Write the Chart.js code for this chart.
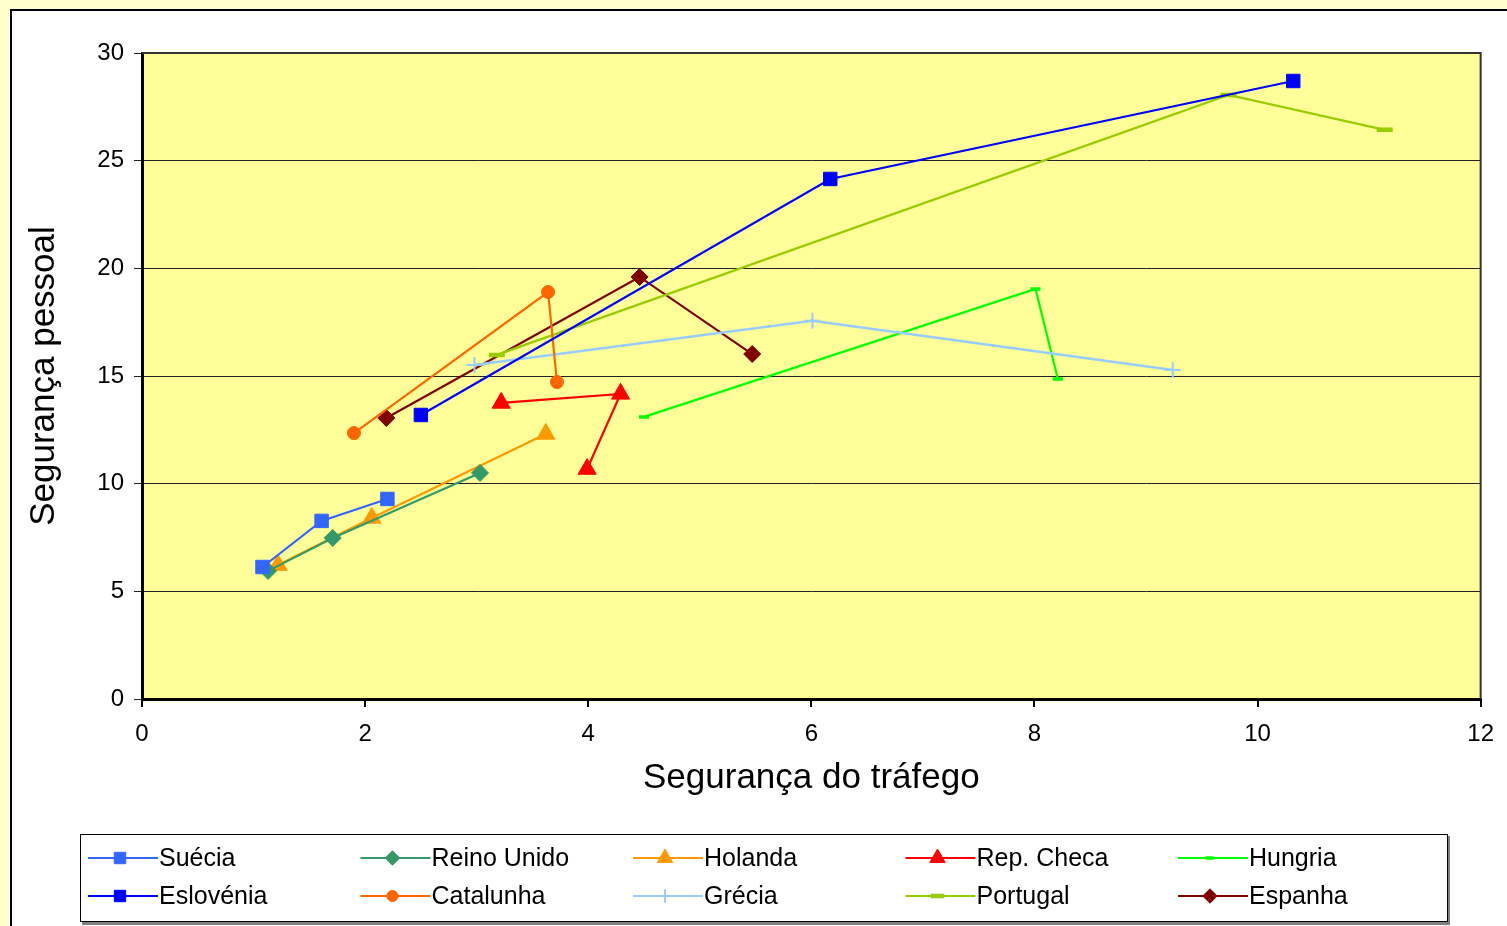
<!DOCTYPE html>
<html>
<head>
<meta charset="utf-8">
<script src="https://cdn.jsdelivr.net/npm/chart.js@4.4.1/dist/chart.umd.min.js"></script>
<style>
  body { margin: 0; background: #FFFFCC; overflow: hidden; }
  #frame { position: absolute; left: 10px; top: 9px; width: 1510px; height: 930px; background: #fff; border-left: 2px solid #000; border-top: 2px solid #000; }
  #graphs { position: absolute; left: 0; top: 0; }
</style>
</head>
<body>
<div id="frame"></div>
<canvas id="graphs" width="1507" height="926"></canvas>
<script>
// x = Segurança do tráfego, y = Segurança pessoal
const suecia = [[1.08, 6.13], [1.61, 8.27], [2.20, 9.29]];
const eslovenia = [[2.50, 13.19], [6.17, 24.15], [10.32, 28.70]];
const reinoUnido = [[1.13, 5.95], [1.71, 7.48], [3.03, 10.50]];
const catalunha = [[1.90, 12.35], [3.64, 18.90], [3.72, 14.72]];
const holanda = [[1.22, 6.22], [2.06, 8.41], [3.62, 12.31]];
const grecia = [[2.98, 15.51], [6.01, 17.56], [9.24, 15.28]];
const repCheca = [[3.22, 13.75], [4.29, 14.17], [3.99, 10.68]];
const portugal = [[3.18, 15.98], [9.74, 28.05], [11.14, 26.43]];
const hungria = [[4.50, 13.10], [8.01, 19.04], [8.21, 14.86]];
const espanha = [[2.19, 13.05], [4.46, 19.60], [5.47, 16.02]];

const xTicks = [0, 2, 4, 6, 8, 10, 12];
const yTicks = [0, 5, 10, 15, 20, 25, 30];

const FONT = '"Liberation Sans", Arial, sans-serif';

function pts(arr) {
    return arr.map(p => ({ x: p[0], y: p[1] }));
}

function series(label, arr, color, style, radius, bw, lw) {
    return {
        label: label,
        data: pts(arr),
        showLine: true,
        borderColor: color,
        backgroundColor: color,
        pointBackgroundColor: color,
        pointBorderColor: color,
        borderWidth: lw || 2.2,
        pointStyle: style,
        pointRadius: radius,
        pointHoverRadius: radius,
        pointBorderWidth: bw,
        legendRadius: radius * 0.85,
    };
}

// column-major order so the legend reads row by row like the original
const datasets = [
    series('Suécia', suecia, '#3366FF', 'rect', 9.5, 1),
    series('Eslovénia', eslovenia, '#0000FF', 'rect', 9.5, 1),
    series('Reino Unido', reinoUnido, '#339966', 'rectRot', 8.5, 1),
    series('Catalunha', catalunha, '#FF6600', 'circle', 6.5, 1),
    series('Holanda', holanda, '#FF9900', 'triangle', 10.5, 1),
    series('Grécia', grecia, '#99CCFF', 'cross', 8, 2, 2.5),
    series('Rep. Checa', repCheca, '#FF0000', 'triangle', 10.5, 1),
    series('Portugal', portugal, '#99CC00', 'line', 8, 4.5),
    series('Hungria', hungria, '#00FF00', 'line', 5, 3.5),
    series('Espanha', espanha, '#800000', 'rectRot', 8.5, 1),
];

const plotFrame = {
    id: 'plotFrame',
    beforeDraw(chart) {
        const a = chart.chartArea;
        const ctx = chart.ctx;
        ctx.save();
        ctx.fillStyle = '#FFFF99';
        ctx.fillRect(a.left, a.top, a.right - a.left, a.bottom - a.top);
        ctx.restore();
    },
    afterDatasetsDraw(chart) {
        const a = chart.chartArea;
        const ctx = chart.ctx;
        ctx.save();
        ctx.strokeStyle = '#333';
        ctx.lineWidth = 2;
        ctx.beginPath();
        ctx.moveTo(a.left, a.top);
        ctx.lineTo(a.right, a.top);
        ctx.lineTo(a.right, a.bottom);
        ctx.stroke();
        ctx.restore();
    }
};

const legendBox = {
    id: 'legendBox',
    afterDraw(chart) {
        const ctx = chart.ctx;
        ctx.save();
        ctx.fillStyle = '#808080';
        ctx.fillRect(82, 836, 1368, 89);
        ctx.fillStyle = '#fff';
        ctx.fillRect(80, 834, 1368, 88);
        ctx.strokeStyle = '#000';
        ctx.lineWidth = 1;
        ctx.strokeRect(80.5, 834.5, 1367, 87);
        chart.data.datasets.forEach((ds, i) => {
            const col = Math.floor(i / 2);
            const row = i % 2;
            const x = 88 + col * 272.5;
            const y = row ? 896 : 858;
            ctx.strokeStyle = ds.borderColor;
            ctx.lineWidth = 2;
            ctx.beginPath();
            ctx.moveTo(x, y);
            ctx.lineTo(x + 70, y);
            ctx.stroke();
            ctx.fillStyle = ds.backgroundColor;
            ctx.lineWidth = ds.pointBorderWidth;
            Chart.helpers.drawPoint(ctx, {
                pointStyle: ds.pointStyle,
                radius: ds.legendRadius,
                borderWidth: ds.pointBorderWidth,
                rotation: 0
            }, x + 32, y);
            ctx.fillStyle = '#000';
            ctx.font = '25px ' + FONT;
            ctx.textBaseline = 'middle';
            ctx.textAlign = 'left';
            ctx.fillText(ds.label, x + 71, y + 1);
        });
        ctx.restore();
    }
};

const ctx = document.getElementById('graphs').getContext('2d');
const myChart = new Chart(ctx, {
    type: 'scatter',
    data: { datasets: datasets },
    plugins: [plotFrame, legendBox],
    options: {
        responsive: false,
        animation: false,
        layout: {
            padding: { left: 0, top: 53, right: 26, bottom: 125 }
        },
        plugins: {
            legend: { display: false },
            tooltip: { enabled: false },
        },
        scales: {
            x: {
                type: 'linear',
                min: 0,
                max: 12,
                afterFit: function (scale) { scale.height = 102; },
                afterBuildTicks: function (scale) { scale.ticks = xTicks.map(v => ({ value: v })); },
                border: { color: '#000', width: 3 },
                grid: {
                    drawOnChartArea: false,
                    drawTicks: true,
                    tickLength: 8,
                    color: '#000',
                    lineWidth: 2,
                },
                ticks: {
                    color: '#000',
                    font: { family: FONT, size: 24 },
                    padding: 13,
                    maxRotation: 0,
                },
                title: {
                    display: true,
                    text: 'Segurança do tráfego',
                    color: '#000',
                    font: { family: FONT, size: 35 },
                    padding: { top: 0, bottom: 2 },
                },
            },
            y: {
                type: 'linear',
                min: 0,
                max: 30,
                afterFit: function (scale) { scale.width = 142; },
                afterBuildTicks: function (scale) { scale.ticks = yTicks.map(v => ({ value: v })); },
                border: { color: '#000', width: 3 },
                grid: {
                    color: '#222',
                    lineWidth: 1,
                    tickLength: 8,
                },
                ticks: {
                    color: '#000',
                    font: { family: FONT, size: 24 },
                    padding: 10,
                },
                title: {
                    display: true,
                    text: 'Segurança pessoal',
                    color: '#000',
                    font: { family: FONT, size: 35 },
                    padding: { top: 23, bottom: 0 },
                },
            },
        },
    },
});
</script>
</body>
</html>
